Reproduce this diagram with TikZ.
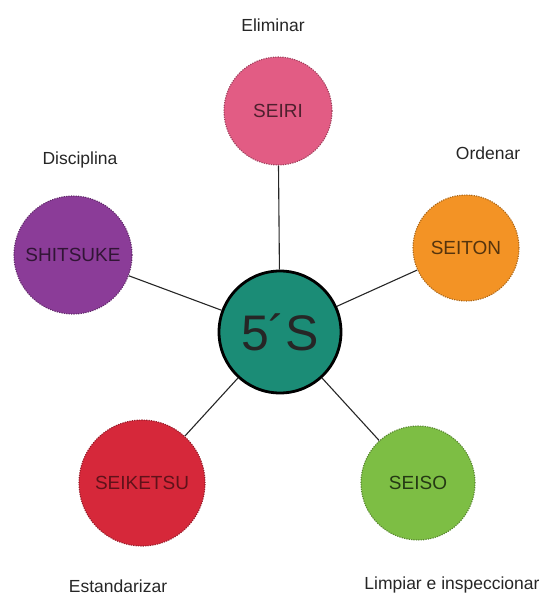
\documentclass[tikz,border=0pt]{standalone}
\usepackage{fontspec}
\setmainfont{Liberation Sans}
\definecolor{cteal}{RGB}{27,140,118}
\definecolor{cpink}{RGB}{226,92,132}
\definecolor{corange}{RGB}{243,147,37}
\definecolor{cpurple}{RGB}{139,60,152}
\definecolor{cred}{RGB}{214,40,58}
\definecolor{cgreen}{RGB}{125,190,68}
\tikzset{
  petal/.style={circle, inner sep=0pt, minimum size=#1, line width=1.1pt, dash pattern=on 1.2pt off 1.2pt, font=\fontsize{19}{22}\selectfont},
  hub/.style={circle, inner sep=0pt, minimum size=122pt, fill=cteal, draw=black, line width=2.8pt, font=\fontsize{50}{56}\selectfont, text=black!85},
  label/.style={font=\fontsize{17.5}{21}\selectfont, text=black!85, inner sep=0pt},
  link/.style={draw=black!85, line width=1.1pt}
}
\begin{document}
\begin{tikzpicture}[x=1pt,y=-1pt]
\useasboundingbox (0,0) rectangle (551,597);
\node[hub] (c) at (280,332) {5´S};
\node[petal=108pt, fill=cpink, draw=cpink!70!black, text=cpink!35!black] (seiri) at (278,111) {SEIRI};
\node[petal=106pt, fill=corange, draw=corange!70!black, text=corange!35!black] (seiton) at (466,248) {SEITON};
\node[petal=118pt, fill=cpurple, draw=cpurple!70!black, text=cpurple!35!black] (shitsuke) at (73,255) {SHITSUKE};
\node[petal=126pt, fill=cred, draw=cred!70!black, text=cred!45!black] (seiketsu) at (142,483) {SEIKETSU};
\node[petal=114pt, fill=cgreen, draw=cgreen!70!black, text=cgreen!30!black] (seiso) at (418,483) {SEISO};
\draw[link] (c) -- (seiri);
\draw[link] (c) -- (seiton);
\draw[link] (c) -- (shitsuke);
\draw[link] (c) -- (seiketsu);
\draw[link] (c) -- (seiso);
\node[label] (l1) at (273,25) {Eliminar};
\node[label] (l2) at (488,153) {Ordenar};
\node[label] (l3) at (80,160) {Disciplina};
\node[label] (l4) at (118,586) {Estandarizar};
\node[label] (l5) at (452,585) {Limpiar e inspeccionar};
\end{tikzpicture}
\end{document}
